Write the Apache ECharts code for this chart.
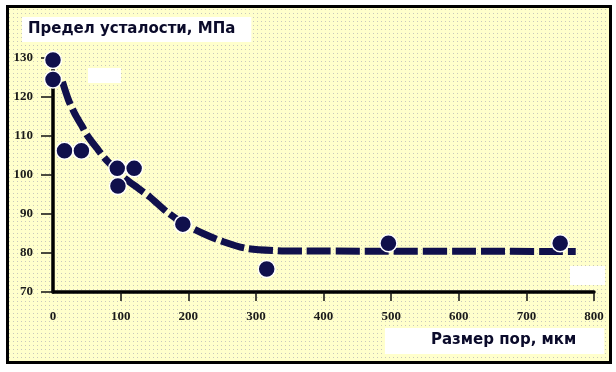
<!DOCTYPE html>
<html>
<head>
<meta charset="utf-8">
<script src="https://cdn.jsdelivr.net/npm/echarts@6/dist/echarts.min.js"></script>
<style>
html,body{margin:0;padding:0;background:#fff;}
#c{width:616px;height:372px;}
</style>
</head>
<body>
<div id="c"></div>
<script>
// ---- data ----
const yTitle = 'Предел усталости, МПа';
const xTitle = 'Размер пор, мкм';
const pointX = [0, 0, 17, 42, 95, 120, 96, 192, 316, 496, 750];
const pointY = [129.5, 124.5, 106.2, 106.2, 101.7, 101.7, 97.2, 87.4, 75.9, 82.5, 82.5];
const curveX = [14, 23, 32, 42, 52, 67, 79, 106, 126, 143, 168, 193, 222, 252, 286, 331, 370, 773];
const curveY = [123.9, 119.2, 115.8, 112.8, 109.8, 106.4, 103.8, 99.2, 96.6, 94.4, 90.6, 87.6, 85.0, 82.9, 81.2, 80.6, 80.5, 80.4];
const xMin = 0, xMax = 800, xStep = 100;
const yMin = 70, yMax = 130, yStep = 10;

// ---- background pattern ----
const pc = document.createElement('canvas');
pc.width = 4; pc.height = 4;
const pctx = pc.getContext('2d');
pctx.fillStyle = '#FFFFCC'; pctx.fillRect(0, 0, 4, 4);
pctx.fillStyle = '#C8C8BC'; pctx.fillRect(1, 1, 1, 1);

const ink = '#10104c';
const chart = echarts.init(document.getElementById('c'), null, {renderer: 'canvas'});
chart.setOption({
  animation: false,
  backgroundColor: '#ffffff',
  graphic: [
    {type: 'rect', z: -10, shape: {x: 7.5, y: 6.5, width: 603, height: 356},
     style: {fill: {image: pc, repeat: 'repeat'}, stroke: '#000', lineWidth: 3}},
    {type: 'rect', z: -5, shape: {x: 88, y: 68, width: 33, height: 15}, style: {fill: '#fff'}},
    {type: 'rect', z: -5, shape: {x: 570, y: 266, width: 35, height: 19}, style: {fill: '#fff'}}
  ],
  title: [
    {text: yTitle, left: 22, top: 17, backgroundColor: '#fff', padding: [4, 16, 4, 6], itemGap: 0,
     textStyle: {fontFamily: 'DejaVu Sans', fontWeight: 'bold', fontSize: 15, color: '#0a0a2a', lineHeight: 17}},
    {text: xTitle, left: 385, top: 328, backgroundColor: '#fff', padding: [4, 28, 5, 46],
     textStyle: {fontFamily: 'DejaVu Sans', fontWeight: 'bold', fontSize: 15, color: '#0a0a2a', lineHeight: 17}}
  ],
  grid: {left: 53, top: 58, width: 541, height: 234, containLabel: false},
  xAxis: {
    type: 'value', min: xMin, max: xMax, interval: xStep,
    splitLine: {show: false},
    axisLine: {show: true, onZero: false, lineStyle: {color: '#000', width: 3.5}},
    axisTick: {show: true, length: 9, lineStyle: {color: '#111', width: 1.5},
      customValues: [100, 200, 300, 400, 500, 600, 700, 800]},
    axisLabel: {margin: 18, fontFamily: 'Liberation Serif', fontWeight: 'bold', fontSize: 13, color: '#1a1a1a'}
  },
  yAxis: {
    type: 'value', min: yMin, max: yMax, interval: yStep,
    splitLine: {show: false},
    axisLine: {show: true, onZero: false, lineStyle: {color: '#000', width: 3.5}},
    axisTick: {show: true, length: 12, lineStyle: {color: '#111', width: 1.5}},
    axisLabel: {margin: 20, fontFamily: 'Liberation Serif', fontWeight: 'bold', fontSize: 13, color: '#1a1a1a'}
  },
  series: [
    {type: 'line', data: curveX.map((x, i) => [x, curveY[i]]), smooth: 0.3, showSymbol: false, symbol: 'none',
     lineStyle: {color: ink, width: 7, type: [24, 5], cap: 'butt'}, z: 2},
    {type: 'scatter', data: pointX.map((x, i) => [x, pointY[i]]), symbol: 'circle', symbolSize: 17,
     itemStyle: {color: ink, borderColor: '#ffffff', borderWidth: 1.5, opacity: 1}, z: 3}
  ]
});
</script>
</body>
</html>
